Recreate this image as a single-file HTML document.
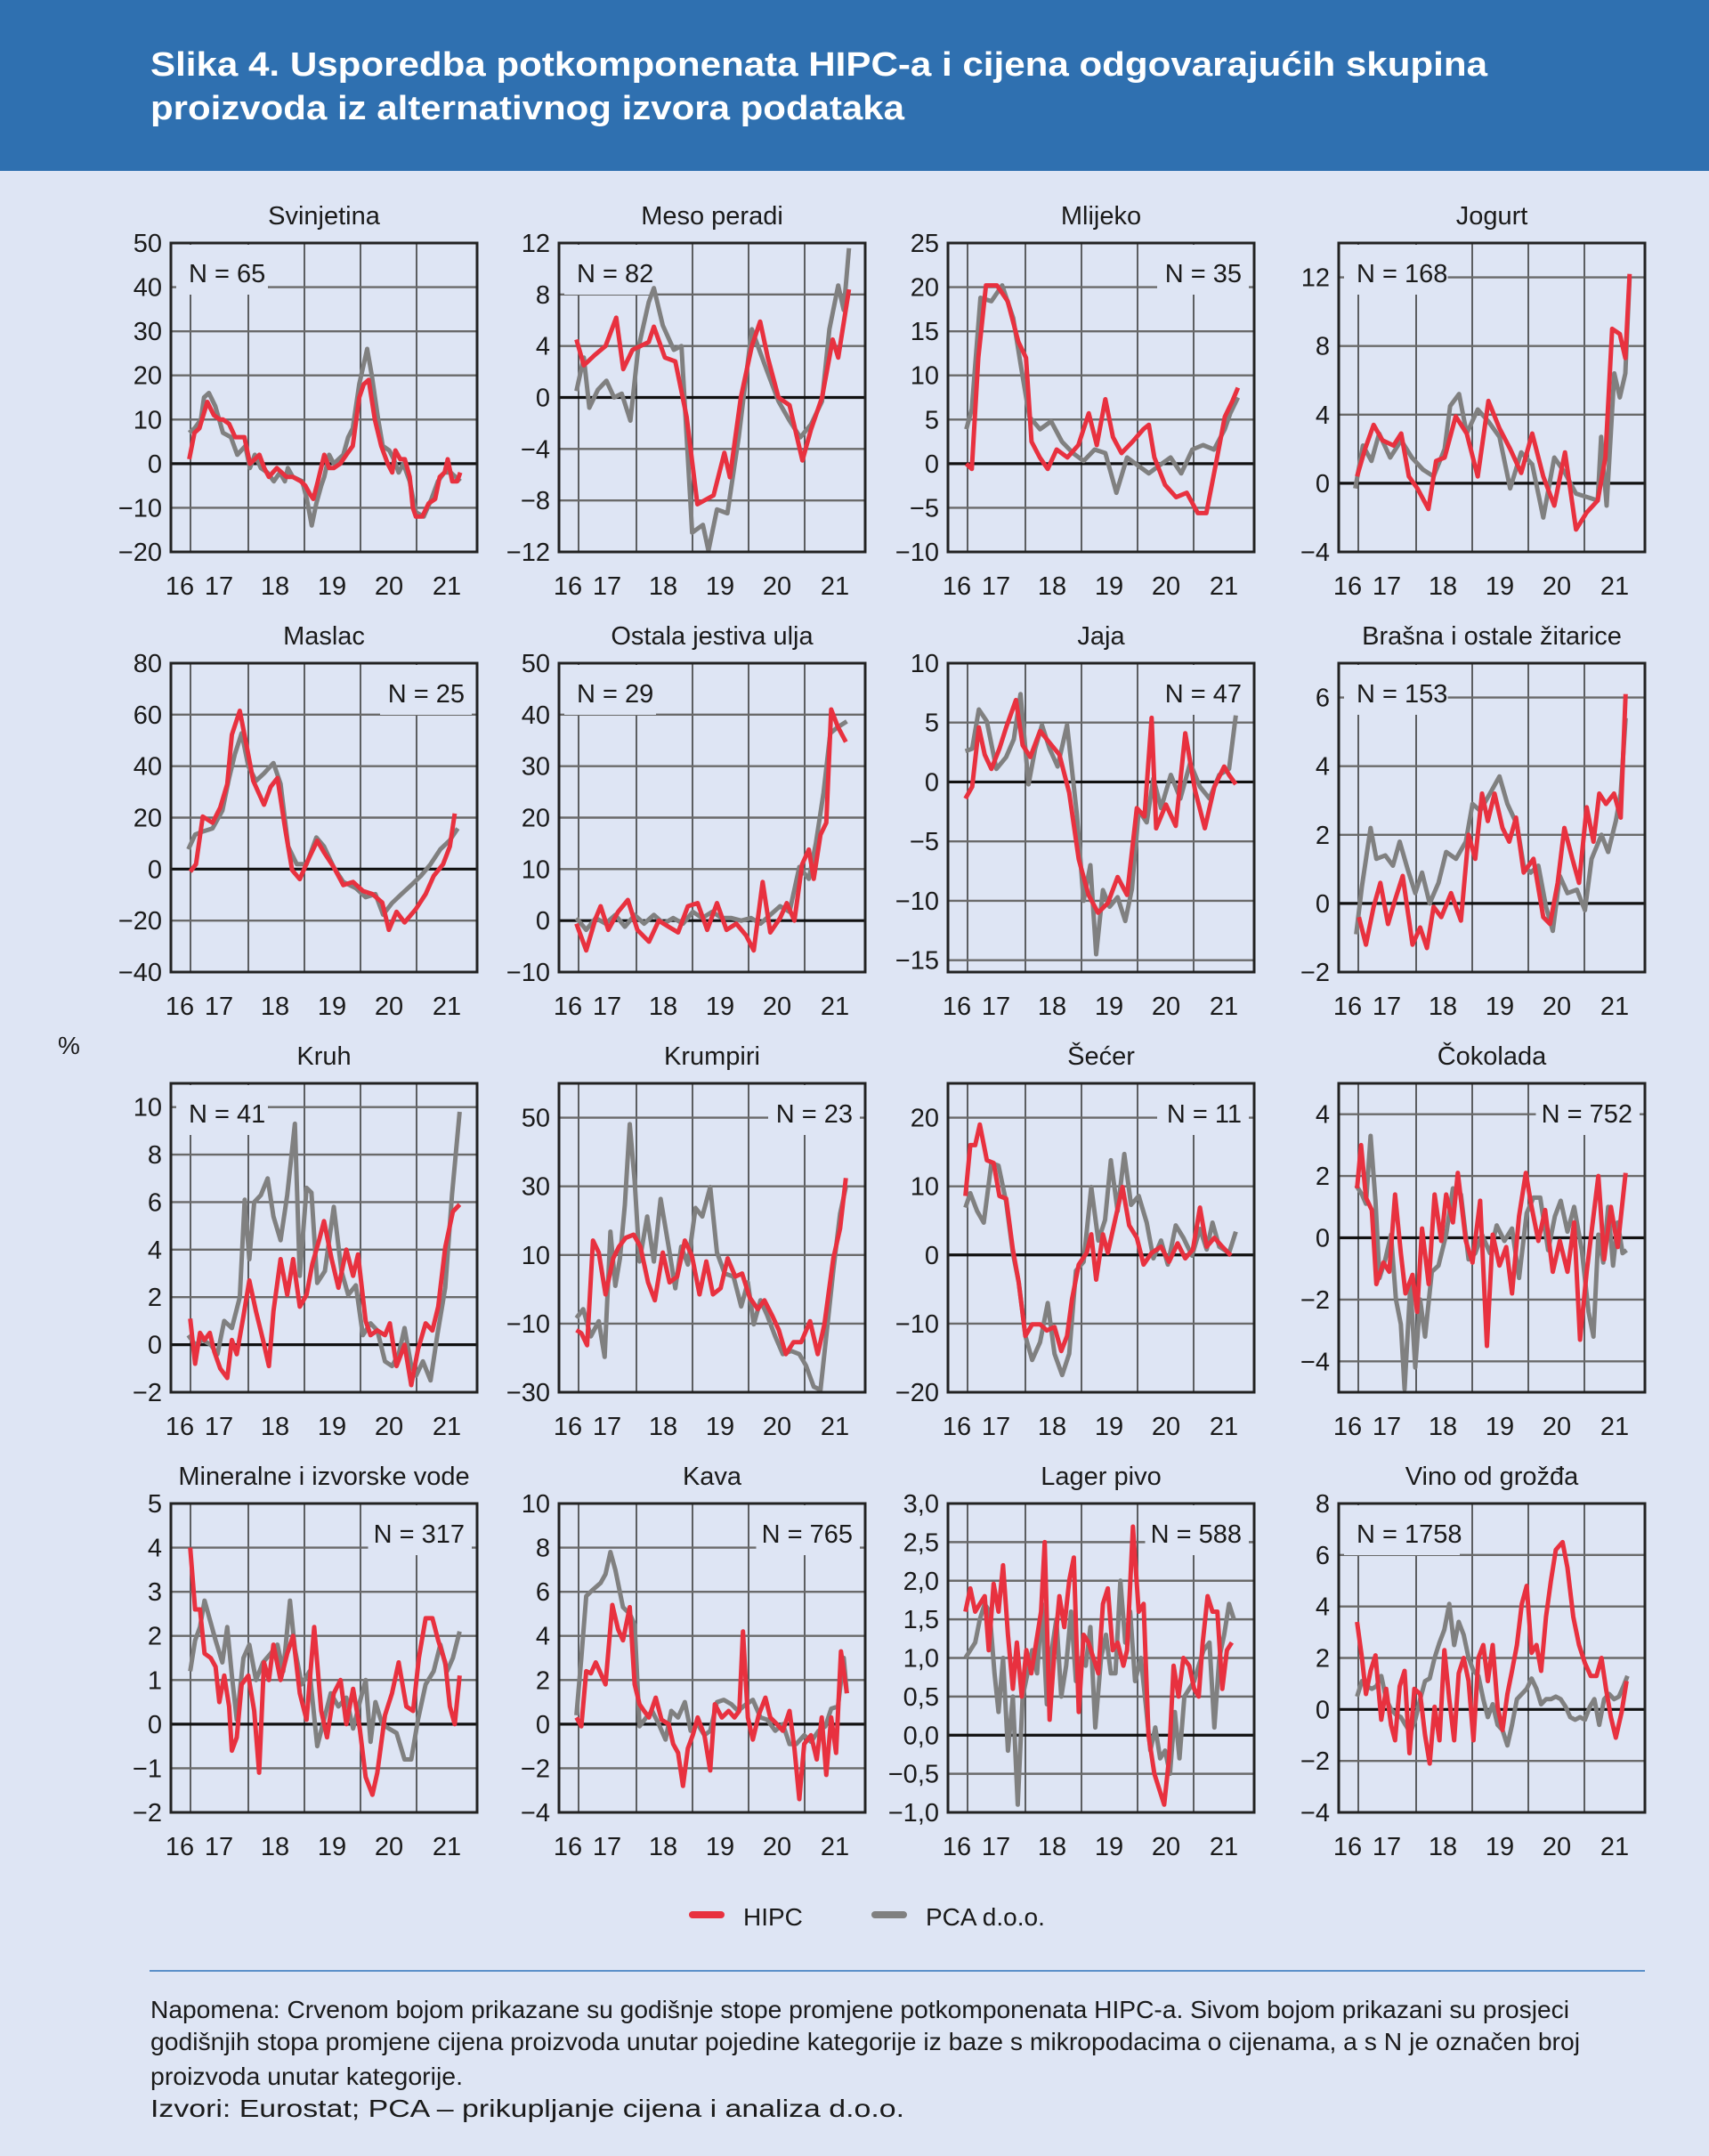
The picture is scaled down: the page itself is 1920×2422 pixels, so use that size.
<!DOCTYPE html>
<html><head><meta charset="utf-8">
<style>
html,body{margin:0;padding:0;background:#dee5f4;}
svg{display:block;}
text{font-family:"Liberation Sans Narrow","Liberation Sans",sans-serif;fill:#1a1a1a;}
</style></head>
<body>
<svg id="s" xmlns="http://www.w3.org/2000/svg" width="1920" height="2422" viewBox="0 0 1920 2422">
<rect x="0" y="0" width="1920" height="2422" fill="#dee5f4"/>
<rect x="0" y="0" width="1920" height="192" fill="#2f70b0"/>
<text x="169" y="85" font-size="38" font-weight="bold" style="fill:#fff" textLength="1502" lengthAdjust="spacingAndGlyphs">Slika 4. Usporedba potkomponenata HIPC-a i cijena odgovarajućih skupina</text>
<text x="169" y="134" font-size="38" font-weight="bold" style="fill:#fff" textLength="847" lengthAdjust="spacingAndGlyphs">proizvoda iz alternativnog izvora podataka</text>
<text x="65" y="1184" font-size="28">%</text>
<g id="charts"></g>
<line x1="778" y1="2151" x2="810" y2="2151" stroke="#e8313f" stroke-width="8" stroke-linecap="round"/>
<text x="835" y="2163" font-size="28">HIPC</text>
<line x1="983" y1="2151" x2="1015" y2="2151" stroke="#808080" stroke-width="8" stroke-linecap="round"/>
<text x="1040" y="2163" font-size="28">PCA d.o.o.</text>
<line x1="168" y1="2214" x2="1848" y2="2214" stroke="#5b8fc9" stroke-width="2"/>
<text x="169" y="2267" font-size="28" textLength="1594" lengthAdjust="spacingAndGlyphs">Napomena: Crvenom bojom prikazane su godišnje stope promjene potkomponenata HIPC-a. Sivom bojom prikazani su prosjeci</text>
<text x="169" y="2303" font-size="28" textLength="1606" lengthAdjust="spacingAndGlyphs">godišnjih stopa promjene cijena proizvoda unutar pojedine kategorije iz baze s mikropodacima o cijenama, a s N je označen broj</text>
<text x="169" y="2342" font-size="28" textLength="351" lengthAdjust="spacingAndGlyphs">proizvoda unutar kategorije.</text>
<text x="169" y="2378" font-size="28" textLength="847" lengthAdjust="spacingAndGlyphs">Izvori: Eurostat; PCA – prikupljanje cijena i analiza d.o.o.</text>
</svg>
<script>
var P=[
{t:"Svinjetina",n:"N = 65",nr:0,min:-20,max:50,ticks:[-20,-10,0,10,20,30,40,50],
r:[6,1,7.7,7,9.3,8,11.9,14,14,11,16,10,17,10,19,9,21,6,24,6,25.8,0,27.4,1,28.9,2,30.5,-1,32,-3,34.6,-1,36.2,-2,37.7,-3,39.8,-3,42.4,-4,43.9,-5,45.5,-7,46.5,-8,48,-4,50.1,2,51.7,-1,53.2,-1,55.3,0,57.3,2,59.4,4,61.5,15,63,18,64.6,19,66.6,10,68.7,4,70.8,0,72.3,-2,73.3,3,74.9,1,76.4,1,78,-3,79,-10,80,-12,82.1,-12,84.2,-9,86.3,-8,87.8,-3,89.4,-2,90.4,1,91.9,-4,93.5,-4,94.5,-2],
g:[6,7,7.7,8,9.8,10,10.8,15,12.4,16,14.5,13,17,7,19.6,6,21.7,2,24.3,4,25.8,-1,27.4,2,29.4,-1,31.5,-2,33.6,-4,35.6,-2,37.2,-4,38.2,-1,39.8,-3,42.9,-4,44.4,-8,46,-14,47.5,-9,49.1,-5,50.1,-3,51.7,2,53.2,0,56.3,2,57.9,6,59.4,8,61.5,18,64.1,26,65.6,20,67.7,10,69.2,4,71.3,3,72.8,1,74.4,-2,75.9,0,78,-4,80,-11,82.6,-12,85.1,-8,87.2,-4,89.3,-2,91.4,-2,94.5,-4]},
{t:"Meso peradi",n:"N = 82",nr:0,min:-12,max:12,ticks:[-12,-8,-4,0,4,8,12],
r:[5.7,4.5,8.1,2.5,11.7,3.3,15.2,4,18.7,6.2,21,2.2,24,3.7,29.3,4.3,31,5.5,34.6,3.1,38,2.8,41.7,-1.5,45.2,-8.3,50.5,-7.6,54,-4.3,55.8,-6.2,59.4,0,63,4,65.7,5.9,68.2,3.1,71.7,0,75.3,-0.6,79.5,-4.9,82.3,-2.5,85.9,0,89.4,4.5,91.2,3.1,94.7,8.4],
g:[5.7,0.5,8.1,3.1,9.9,-0.8,12.7,0.6,15.5,1.3,18,0,20.5,0.3,23.3,-1.8,25.8,3.7,29.3,7.4,31,8.5,33.9,5.6,37.5,3.7,40,4,43.5,-10.5,47,-9.9,48.8,-11.9,51.6,-8.7,55,-9,58.7,-3.1,63,5.3,65.4,3.7,68.2,1.9,71.7,-0.3,75.3,-1.8,78.8,-3.1,82.3,-2.1,85.9,-0.3,88.3,5.3,91.2,8.7,93,6.8,94.7,11.6]},
{t:"Mlijeko",n:"N = 35",nr:1,min:-10,max:25,ticks:[-10,-5,0,5,10,15,20,25],
r:[6,0,7.8,-0.6,9.9,12,12.4,20.2,16,20.2,19.5,18.4,23,13.8,25.5,12,27.3,2.5,30,0.7,32.6,-0.6,35.5,1.6,39,0.7,42.6,2.1,46,5.7,48.6,2.1,51.4,7.3,53.9,3,56.7,1.2,60.3,2.5,63.8,3.9,65.6,4.4,67.4,0.7,70.9,-2.4,74.5,-3.8,78,-3.3,81.6,-5.6,84.4,-5.6,87.9,0.7,90.4,5.3,92.9,7.1,94.7,8.6],
g:[6,3.9,7.8,6.2,10.6,18.8,14.2,18.4,17.7,20.2,21.3,16.5,23.8,11.1,26.6,5.3,30.1,3.9,33.7,4.8,37.2,2.5,40.8,1.2,44.3,0.3,47.9,1.6,51.4,1.2,55,-3.3,58.5,0.7,62,-0.2,65.6,-1.1,69.1,-0.2,72.7,0.7,76.2,-1.1,79.8,1.6,83.3,2.1,86.9,1.6,90.4,3.9,92.2,5.7,94.7,7.5]},
{t:"Jogurt",n:"N = 168",nr:0,min:-4,max:14,ticks:[-4,0,4,8,12],
r:[6,0.4,8.6,2,11.4,3.4,14.3,2.5,17.9,2.2,20.4,2.9,22.9,0.4,25.7,-0.3,29.3,-1.5,31.8,1.3,34.6,1.5,38.2,3.9,41.8,2.9,45.4,0.4,48.9,4.8,52.5,3.2,56,2,59.6,0.6,63.2,2.9,66.8,0.4,70.4,-1.3,73.9,1.8,77.5,-2.7,81,-1.7,84.6,-1,87.1,1.5,89.3,9,91.8,8.7,93.6,7.3,95,12.2],
g:[5.4,-0.3,7.9,2.2,10.7,1.3,13.2,2.9,16.8,1.5,20.4,2.5,23.9,1.5,27.5,0.8,31,0.4,34.6,2,36.4,4.5,39.3,5.2,41.8,2.9,45.4,4.3,48.9,3.6,52.5,2.7,56,-0.3,59.6,1.8,63.2,1.1,66.8,-2,70.4,1.5,73.9,0.6,77.5,-0.6,81,-0.8,84.6,-1,85.7,2.7,87.5,-1.3,90,6.4,91.8,5,93.6,6.4,95,12]},
{t:"Maslac",n:"N = 25",nr:1,min:-40,max:80,ticks:[-40,-20,0,20,40,60,80],
r:[6.3,-1,8.2,1.9,10.4,20.4,13.6,18,16.1,23.9,18.4,33,19.9,52.2,22.5,61.5,24.7,48,26.9,34.3,30.4,25,32.6,32,34.8,35.4,37.3,15.8,39.6,-0.4,42.1,-3.9,44.6,3,47.8,11,50,6.5,53.2,0.7,56.3,-6.2,59.5,-5,62.7,-8.5,65.8,-9.7,69,-13,71.2,-23.6,73.7,-16.6,76.3,-20.7,80,-15.5,83.2,-9.7,85.8,-2.7,88.9,1.9,91.1,8.8,92.7,21.6],
g:[5.7,7.7,7.9,13.4,10.4,14.6,13.6,15.8,16.8,22.7,19,35.4,20.9,44.7,23.1,52.8,25.3,40,27.8,34.3,30.4,37.2,33.5,41.2,35.8,33.1,38.3,8.8,41.1,1.9,44.3,1.9,47.5,12.3,50,8.8,53.2,0.7,56.3,-5,60.4,-7.4,63.6,-10.9,66.8,-9.7,69.3,-17.7,72.2,-13.2,75.3,-9.7,78.5,-6.2,81.6,-2.7,84.8,1.9,88,7.7,91.1,11.2,93.7,15.8]},
{t:"Ostala jestiva ulja",n:"N = 29",nr:0,min:-10,max:50,ticks:[-10,0,10,20,30,40,50],
r:[5.7,-0.6,8.9,-5.8,12,0.5,13.6,2.8,16.1,-1.8,19.3,1.7,22.5,4,25.6,-1.8,29.4,-4.1,32.6,0,35.8,-1.2,38.9,-2.3,42.1,2.8,45.3,3.4,48.4,-1.8,51.6,3.4,54.7,-1.8,57.9,-0.6,61.1,-2.9,63.6,-5.8,66.5,7.5,69,-2.3,72.2,0.5,74.4,3.4,76.9,0,79.4,10.9,81.6,13.8,83.2,8.1,85.4,16.7,87.3,19,88.9,41,91.1,37.6,93.7,34.7],
g:[5.7,0.5,8.9,-1.8,12,0.5,15.2,-0.6,18.4,1.1,21.5,-1.2,24.7,1.1,27.8,-0.6,31,1.1,34.2,-0.6,37.3,0.5,40.5,-0.6,43.7,1.7,46.8,0.5,50,1.7,53.2,0.5,56.3,0.5,59.5,0,62.7,0.5,65.8,-0.6,69,1.1,72.2,2.8,75.3,1.7,78.5,10.4,81.6,8.1,83.9,15,86.4,24.8,88.6,36.4,91.1,37.6,94,38.7]},
{t:"Jaja",n:"N = 47",nr:1,min:-16,max:10,ticks:[-15,-10,-5,0,5,10],
r:[5.7,-1.4,7.9,-0.4,10.1,4.6,12,2.3,14.2,1.1,16.8,2.8,19,4.6,22.2,6.9,24.4,3.1,26.9,2.1,30.1,4.3,33.2,3.3,36.4,2.3,39.6,-0.9,42.7,-6.5,45.9,-9.5,49,-11,52.2,-10.2,55.4,-8,58.5,-9.5,61.7,-2.2,64.2,-2.9,66.5,5.4,68,-3.9,71.2,-1.9,74.4,-3.7,77.5,4.1,80.7,-0.7,83.9,-3.9,87,-0.4,90.2,1.3,91.8,0.6,94,-0.2],
g:[5.7,2.6,7.9,2.8,10.1,6.1,12.7,5.1,15.8,1.1,19,2.1,21.5,3.6,23.7,7.4,26.3,-0.2,28.5,2.8,30.7,4.8,33.2,2.8,35.8,1.3,38.9,4.8,42.1,-2.7,44.3,-10,46.5,-7,48.4,-14.5,50.6,-9.1,52.8,-10.5,55.4,-9.7,57.9,-11.7,60.1,-9,62.3,-2.4,64.9,-3.4,67.1,0.3,69.6,-2.2,72.8,0.6,75.9,-1.4,79.1,1.6,82.3,-0.4,85.4,-1.4,88.6,0.6,91.8,1.1,94,5.6]},
{t:"Brašna i ostale žitarice",n:"N = 153",nr:0,min:-2,max:7,ticks:[-2,0,2,4,6],
r:[6.6,-0.4,8.9,-1.2,11.4,-0.1,13.6,0.6,16.1,-0.6,18.4,0.1,20.9,0.8,22.5,-0.2,24.1,-1.2,26.6,-0.7,28.8,-1.3,31,-0.1,33.5,-0.4,36.7,0.3,39.9,-0.5,42.4,2,44.6,1.3,46.8,3.2,48.7,2.4,50.9,3.2,53.5,2.2,55.7,1.8,57.9,2.5,60.4,0.9,63.6,1.3,66.8,-0.4,69,-0.6,71.5,0.6,73.7,2.2,76.3,1.3,78.5,0.6,81,2.8,83.2,1.8,85.1,3.2,87.3,2.9,89.9,3.2,92.1,2.5,93.7,6.1],
g:[5.7,-0.9,7.6,0.5,10.4,2.2,12.3,1.3,15.2,1.4,17.7,1.1,19.9,1.8,22.5,1,25,0.3,27.2,0.9,29.7,0,32.6,0.6,35.1,1.5,38.3,1.3,41.5,1.8,43.7,2.9,46.2,2.7,49.4,3.2,52.5,3.7,55.1,2.9,58.2,2.3,60.4,1.1,62.7,0.9,65.2,1.1,67.7,-0.1,69.9,-0.8,72.2,0.8,74.7,0.3,77.8,0.4,80.4,-0.2,82.6,1.3,85.8,2,88,1.5,90.5,2.4,92.1,3.2,93.7,5.4]},
{t:"Kruh",n:"N = 41",nr:0,min:-2,max:11,ticks:[-2,0,2,4,6,8,10],
r:[6.3,1.1,7.9,-0.8,9.5,0.5,11,0.2,12.7,0.5,14.2,-0.3,16.1,-1,18.4,-1.4,19.9,0.2,21.5,-0.4,23.7,1.2,25.6,2.7,27.8,1.4,30.1,0.2,32,-0.9,33.5,1.4,35.8,3.6,38,2.1,39.9,3.6,42.1,1.6,44.3,2.1,46.2,3.4,48.4,4.4,50,5.2,52.5,3.6,54.7,2.4,57.3,4,59.5,2.9,61.1,3.8,63.6,1,65.2,0.4,67.4,0.6,69.9,0.4,71.5,0.9,73.7,-0.9,76.3,0,78.5,-1.7,80.7,-0.2,83.2,0.9,85.4,0.6,87.3,1.6,89.6,4.1,92.1,5.6,94.3,5.9],
g:[5.7,0.4,7.9,0,10.4,0.2,13,0,15.2,-0.4,17.4,1,19.9,0.7,22.5,2,24.1,6.1,25.6,3.6,27.2,6,29.4,6.3,31.6,7,33.5,5.4,35.8,4.4,38,6.3,40.5,9.3,42.1,2.9,44.3,6.6,45.9,6.4,47.8,2.6,50.3,3.1,53.2,5.8,55.7,3.1,57.9,2.1,60.4,2.5,62.7,0.4,65.2,0.9,67.4,0.6,69.9,-0.7,72.2,-0.9,74.4,-0.4,76.3,0.7,78.5,-0.9,80.1,-1.3,82.3,-0.7,84.8,-1.5,87,0.4,89.6,2.4,91.8,6.3,94.3,9.8]},
{t:"Krumpiri",n:"N = 23",nr:1,min:-30,max:60,ticks:[-30,-10,10,30,50],
r:[5.7,-11.9,7.3,-12.8,9.2,-16.3,11.1,14.2,13,10.7,15.2,-1.5,17.7,9,19.6,12.4,21.8,15,24.4,15.9,26.6,12.4,29.1,2,31.3,-3.2,33.9,10.7,36.1,2,38.6,3.7,41.1,14.2,43.4,9.8,45.9,-1.5,48.1,8.1,50.3,-1.5,52.8,0.3,55.1,9,57.6,3.7,59.8,4.6,62.3,-2.4,64.9,-5.8,67.1,-3.2,69.6,-7.6,71.8,-11.9,74.1,-18.9,76.6,-15.4,79.1,-15.4,82,-9.3,84.5,-18.9,86.7,-10.2,89.6,9,91.8,17.7,93.7,32.4],
g:[5.7,-8.4,7.9,-5.8,10.4,-13.7,13,-9.3,14.9,-19.7,16.8,16.8,18.4,1,19.9,9,21.5,24.6,23.1,48.1,24.7,31.6,26.3,8.1,28.8,21.2,31,8.1,33.2,26.3,35.8,12.4,38,0.3,39.9,12.4,42.1,7.2,44.6,23.7,46.8,21.2,49.4,29.8,51.6,10.7,54.1,4.6,57,3.7,59.5,-5,61.7,2,63.6,-10.2,65.8,-3.2,68,-7.6,70.6,-13.7,73.1,-18.9,75.9,-18,78.5,-18.9,80.7,-22.3,83.2,-28.4,85.4,-29.3,87.7,-10.2,89.6,5.5,91.8,22,93.7,29.8]},
{t:"Šećer",n:"N = 11",nr:1,min:-20,max:25,ticks:[-20,-10,0,10,20],
r:[5.7,8.6,7.3,16,8.9,16,10.4,19,12.7,13.8,14.9,13.4,16.8,8.6,19,8.2,21.2,0.8,23.1,-4,25.3,-11.8,27.5,-10.1,30.1,-10.1,32.3,-11,34.8,-10.5,37,-14,38.9,-11.8,40.5,-6.5,42.7,-1.4,45.3,0.3,46.8,3,48.4,-3.6,50.6,3,52.2,0.3,54.4,4.7,57,9.9,59.2,4.3,61.7,2.5,63.9,-1.4,66.5,0.3,69.6,1.2,72.2,-1,75,1.7,77.5,-0.5,80,0.8,82.3,6.9,84.5,1.2,87,2.5,89.6,1.2,92.4,-0.1],
g:[5.7,6.9,7.3,9,9.5,6.4,11.7,4.7,14.2,13.4,16.5,13,19,7.7,21.2,0.3,23.1,-4,25.3,-11.8,27.5,-15.3,30.1,-12.7,32.6,-7,34.8,-14.4,37.3,-17.5,39.6,-14.4,41.8,-2.3,44.3,-1,46.8,9.9,49.1,2.1,51.3,5.1,53.2,13.8,55.4,6.4,57.6,14.7,59.8,7.3,62.3,8.6,64.9,4.7,67.1,-0.5,69.6,2.1,71.8,-1.4,74.4,4.3,76.9,2.5,79.7,-0.1,82.3,3.8,84.5,0.8,86.4,4.7,88.6,1.2,91.8,0.3,94,3.4]},
{t:"Čokolada",n:"N = 752",nr:1,min:-5,max:5,ticks:[-4,-2,0,2,4],
r:[6,1.6,7.3,3,8.9,1.3,10.8,0.9,12.3,-1.5,14.6,-0.8,16.5,-1.1,18.4,1.4,20.3,-0.5,21.8,-1.8,24.1,-1.2,25.6,-2.4,27.2,0.3,29.4,-1.5,31.3,1.4,33.5,-0.1,35.1,1.4,37.3,0.5,38.9,2.1,41.5,-0.1,43.7,-0.8,46.2,1.2,48.4,-3.5,50.3,0.1,52.5,-0.9,54.7,-0.3,56.6,-1.8,58.9,0.7,61.1,2.1,63,1,65.2,-0.1,67.4,0.9,69.9,-1.1,72.2,-0.1,74.7,-1.1,76.9,0.5,78.8,-3.3,81,-1.1,83.2,0.7,84.8,2,86.7,-0.7,88.9,1,91.1,-0.3,93.7,2.1],
g:[5.7,1.7,7.6,1.4,8.9,1.1,10.4,3.3,12,1.2,13.3,-1.3,15.2,-0.7,17.1,0.1,18.7,-2,20.3,-2.8,21.5,-4.9,23.4,-1.5,25,-4.2,26.6,-2,28.2,-3.2,30.4,-1.1,32.6,-0.9,35.1,0.1,37.3,1.6,39.9,1.4,42.4,-0.7,44.6,-0.5,46.8,0.1,49.4,-0.5,51.6,0.4,54.1,-0.1,56.6,0.3,58.9,-1.3,61.4,0.8,63.6,1.3,65.8,1.3,68.4,-0.4,70.6,0.7,72.5,1.2,74.7,0.2,76.9,1,79.4,-0.4,81.6,-2.4,83.2,-3.2,84.8,0.1,86.4,-0.8,88,1,89.6,-0.9,91.1,0.5,92.7,-0.5,94,-0.4]},
{t:"Mineralne i izvorske vode",n:"N = 317",nr:1,min:-2,max:5,ticks:[-2,-1,0,1,2,3,4,5],
r:[6.3,4,7.9,2.6,9.5,2.6,11,1.6,13,1.5,14.6,1.3,15.8,0.5,17.4,1.1,19,0.4,19.9,-0.6,21.5,-0.3,23.1,0.9,25.3,1.1,27.2,0.3,28.8,-1.1,30.4,1.4,32,1,33.5,1.8,35.8,1,38,1.6,39.9,2,42.1,0.7,44.3,0.1,46.8,2.2,49.1,0.3,51,-0.3,53.2,0.7,55.4,1,57.3,0,59.5,0.8,61.7,-0.1,63.6,-1.2,65.8,-1.6,67.4,-1.1,69.9,0.2,72.2,0.7,74.4,1.4,76.9,0.4,79.1,0.3,81,1.5,83.2,2.4,85.4,2.4,87.3,1.9,89.6,1.4,91.1,0.4,92.7,0,94.3,1.1],
g:[6.3,1.2,7.9,1.9,9.5,2.2,11,2.8,13,2.3,14.6,1.9,16.8,1.4,18.4,2.2,19.9,1.1,21.5,0.1,23.7,1.5,25.6,1.8,27.8,1,30.1,1.4,32.6,1.6,34.8,1.8,36.7,1.2,38.9,2.8,40.5,1.7,42.7,0.9,45.3,1.2,47.8,-0.5,50,0.1,52.2,0.7,54.7,0.4,57.3,0.6,59.5,-0.1,61.7,0.5,63.6,1,65.2,-0.4,66.8,0.5,69,0,71.2,-0.1,73.7,-0.2,76.3,-0.8,78.5,-0.8,80.7,0.1,83.2,0.9,85.8,1.2,88,1.8,90.2,1.2,92.1,1.5,94.3,2.1]},
{t:"Kava",n:"N = 765",nr:1,min:-4,max:10,ticks:[-4,-2,0,2,4,6,8,10],
r:[5.7,0.3,7.3,-0.1,8.9,2.4,10.4,2.3,12,2.8,13.6,2.3,15.2,1.8,17.4,5.4,19.3,4.3,20.9,3.8,23.1,5.3,24.7,1.8,26.3,0.9,27.8,0.6,29.4,0.3,31.6,1.2,33.5,0.2,35.8,0,37.3,-0.9,38.9,-1.3,40.5,-2.8,42.1,-1.1,43.7,-0.5,45.3,0.3,47.5,-0.5,49.4,-2.1,50.9,0.9,53.2,0.3,55.4,0.6,57.3,0.3,58.9,0.6,60.1,4.2,61.7,0.3,63.3,-0.7,65.2,0.4,67.4,1.2,69,0.3,71.2,0,73.1,-0.3,75.3,0.6,76.9,-1.1,78.5,-3.4,80.1,-0.9,82.3,-0.5,84.2,-1.6,85.8,0.3,87.3,-2.3,88.9,0.3,90.5,-1.3,92.1,3.3,94,1.4],
g:[5.7,0.4,7.3,3,8.9,5.8,11.1,6.1,13.6,6.4,15.2,6.8,16.8,7.8,18.4,7,20.9,5.3,23.1,5,24.7,4.5,26.3,-0.1,28.5,0.3,30.4,0.6,32.6,0,34.8,-0.7,36.7,0.6,38.9,0.3,41.1,1,43,-0.3,45.3,0,47.5,-0.5,49.4,-0.3,51.6,1,53.8,1.1,56.3,0.9,58.5,0.6,61.1,0.9,63.3,1.1,65.8,0.3,68,0.2,70.6,-0.3,73.1,0,75.3,-0.9,77.5,-0.9,80.1,-0.5,82.3,-0.8,84.8,-0.3,87,-0.1,88.9,0.7,91.1,0.8,93,3,94,1.4]},
{t:"Lager pivo",n:"N = 588",nr:1,min:-1,max:3,ticks:[-1,-0.5,0,0.5,1,1.5,2,2.5,3],dec:1,
r:[5.7,1.6,7.3,1.9,8.9,1.6,10.4,1.7,12,1.8,13.3,1.1,14.9,1.96,16.5,1.6,18,2.2,19.6,1.3,21.2,0.6,22.5,1.2,24.1,0.5,25.6,1.1,27.2,0.8,28.8,1.2,30.4,1.6,31.6,2.5,33.2,0.2,34.8,1.1,36.4,1.8,38,1.4,39.6,2,41.1,2.3,42.7,0.3,44.3,1.3,45.9,1.2,47.5,1,49.1,0.8,50.6,1.7,52.2,1.9,53.8,1.1,55.4,1.2,57.3,0.9,58.5,1.1,60.4,2.7,62.3,1.6,63.9,1.7,65.5,0,67.4,-0.5,69,-0.7,70.6,-0.9,72.2,-0.3,73.7,0.9,75.3,0.5,76.9,1,78.8,0.9,80.4,0.6,81.9,0.5,83.2,1.2,84.8,1.8,86.4,1.6,88,1.6,89.6,0.6,91.1,1.1,92.7,1.2],
g:[5.7,1,7.3,1.1,8.9,1.2,10.4,1.5,12,1.7,13.6,1.6,15.2,0.8,16.5,0.3,18,1,19.6,-0.2,21.2,0.5,22.8,-0.9,24.4,0.5,26,0.8,27.5,1.1,29.1,0.8,30.7,1.7,32.3,0.4,33.9,1.1,35.4,1.5,37,0.5,38.6,0.9,40.2,1.6,41.8,0.7,43.4,1,45,0.9,46.5,1.4,48.1,0.1,50,1,51.6,1.3,53.2,0.8,54.7,0.8,56.3,2,57.9,1.2,59.5,1.6,61.1,0.7,63,1,64.6,0.4,66.1,-0.2,67.7,0.1,69.3,-0.3,70.9,-0.2,72.5,-0.5,74.1,0.3,75.6,-0.3,77.2,0.5,78.8,0.6,80.4,0.7,81.9,0.9,83.5,1.1,85.4,1.2,87,0.1,88.6,1,90.2,1.3,91.8,1.7,93.4,1.5]},
{t:"Vino od grožđa",n:"N = 1758",nr:0,min:-4,max:8,ticks:[-4,-2,0,2,4,6,8],
r:[6,3.4,7.6,2,8.9,0.6,10.4,1.5,12,2.1,13.9,-0.4,15.5,0.8,17.1,-0.6,18.4,-1.2,19.9,0.9,21.5,1.5,23.1,-1.7,24.7,0.8,26.6,0.6,28.2,-1,29.7,-2.1,31.3,0.1,32.9,-1.2,34.5,2.3,36.1,0.4,37.7,-1.2,39.2,1.4,40.8,2,42.4,1.1,44,-1.2,45.6,2,47.2,2.5,48.7,1.1,50.3,2.5,51.9,0.1,53.5,-0.8,55.1,0.6,56.6,1.5,58.2,2.5,59.8,4.1,61.4,4.8,63,2.2,64.6,2.5,66.1,1.5,67.7,3.6,69.3,5,70.9,6.2,73.1,6.5,74.7,5.5,76.6,3.6,78.5,2.5,80.4,1.8,82.3,1.3,84.2,1.3,85.8,2,87.3,0.8,88.9,-0.3,90.5,-1.1,92.4,-0.1,94,1.1],
g:[6,0.5,7.6,1.1,9.2,0.9,10.8,0.8,12.3,0.9,13.9,1.3,15.5,0.4,17.1,0,18.7,-0.2,20.3,-0.3,21.8,-0.6,23.4,-0.9,25,-0.4,26.6,0.4,28.2,1.1,29.7,1.2,31.3,2,32.9,2.6,34.5,3.1,36.1,4.1,37.7,2.5,39.2,3.4,40.8,2.9,42.4,2,44,1.5,45.6,1.3,47.2,0.4,48.7,-0.3,50.3,0.2,51.9,-0.6,53.5,-0.8,55.1,-1.4,56.6,-0.6,58.2,0.4,59.8,0.6,61.4,0.8,63,1.2,64.6,0.8,66.1,0.2,67.7,0.4,69.3,0.4,70.9,0.5,72.5,0.4,74.1,0.1,75.6,-0.3,77.2,-0.4,78.8,-0.3,80.4,-0.4,82,0.1,83.5,0.4,85.1,-0.6,86.7,0.4,88.3,0.6,89.9,0.4,91.5,0.5,93,0.9,94.3,1.3]}
];
var lefts=[192,628,1065,1504],tops=[273,745,1217,1689],W=344,H=347;
var yrs=[["16",10],["17",54],["18",117],["19",181],["20",245],["21",310]];
var vgr=[22,87,150,213,276];
function fmt(v,dec){var s=dec?v.toFixed(1).replace('.',','):String(v);return s.replace('-','\u2212');}
var out='';
P.forEach(function(p,i){
 var L=lefts[i%4],T=tops[Math.floor(i/4)];
 function Y(v){return T+H-(v-p.min)/(p.max-p.min)*H;}
 function X(q){return L+q/100*W;}
 out+='<rect x="'+L+'" y="'+T+'" width="'+W+'" height="'+H+'" fill="#dee5f4"/>';
 vgr.forEach(function(g){out+='<line x1="'+(L+g)+'" y1="'+T+'" x2="'+(L+g)+'" y2="'+(T+H)+'" stroke="#3c3c3c" stroke-width="1.6"/>';});
 p.ticks.forEach(function(t){
  var y=Y(t);
  if(t!==0&&Math.abs(y-T)>1&&Math.abs(y-T-H)>1) out+='<line x1="'+L+'" y1="'+y+'" x2="'+(L+W)+'" y2="'+y+'" stroke="#6a6a6a" stroke-width="2.4"/>';
  out+='<text x="'+(L-10)+'" y="'+(y+10)+'" font-size="29" text-anchor="end">'+fmt(t,p.dec)+'</text>';
 });
 if(p.ticks.indexOf(0)>=0) out+='<line x1="'+L+'" y1="'+Y(0)+'" x2="'+(L+W)+'" y2="'+Y(0)+'" stroke="#111" stroke-width="3.2"/>';
 var nw=p.n.length*13.5+10;
 var nx=p.nr?(L+W-12-nw):(L+12);
 out+='<rect x="'+(nx-6)+'" y="'+(T+2)+'" width="'+(nw+12)+'" height="56" fill="#dee5f4"/>';
 out+='<text x="'+(p.nr?(L+W-14):(L+20))+'" y="'+(T+44)+'" font-size="29" text-anchor="'+(p.nr?'end':'start')+'">'+p.n+'</text>';
 ['g','r'].forEach(function(k){
  var a=p[k],pts=[];
  for(var j=0;j<a.length;j+=2)pts.push(X(a[j]).toFixed(1)+','+Y(a[j+1]).toFixed(1));
  out+='<polyline points="'+pts.join(' ')+'" fill="none" stroke="'+(k=='r'?'#e8313f':'#808080')+'" stroke-width="5" stroke-linejoin="round"/>';
 });
 out+='<rect x="'+L+'" y="'+T+'" width="'+W+'" height="'+H+'" fill="none" stroke="#222" stroke-width="3"/>';
 out+='<text x="'+(L+W/2)+'" y="'+(T-21)+'" font-size="29" text-anchor="middle">'+p.t+'</text>';
 yrs.forEach(function(yy){out+='<text x="'+(L+yy[1])+'" y="'+(T+H+48)+'" font-size="29" text-anchor="middle">'+yy[0]+'</text>';});
});
document.getElementById('charts').innerHTML=out;
</script>
</body></html>
